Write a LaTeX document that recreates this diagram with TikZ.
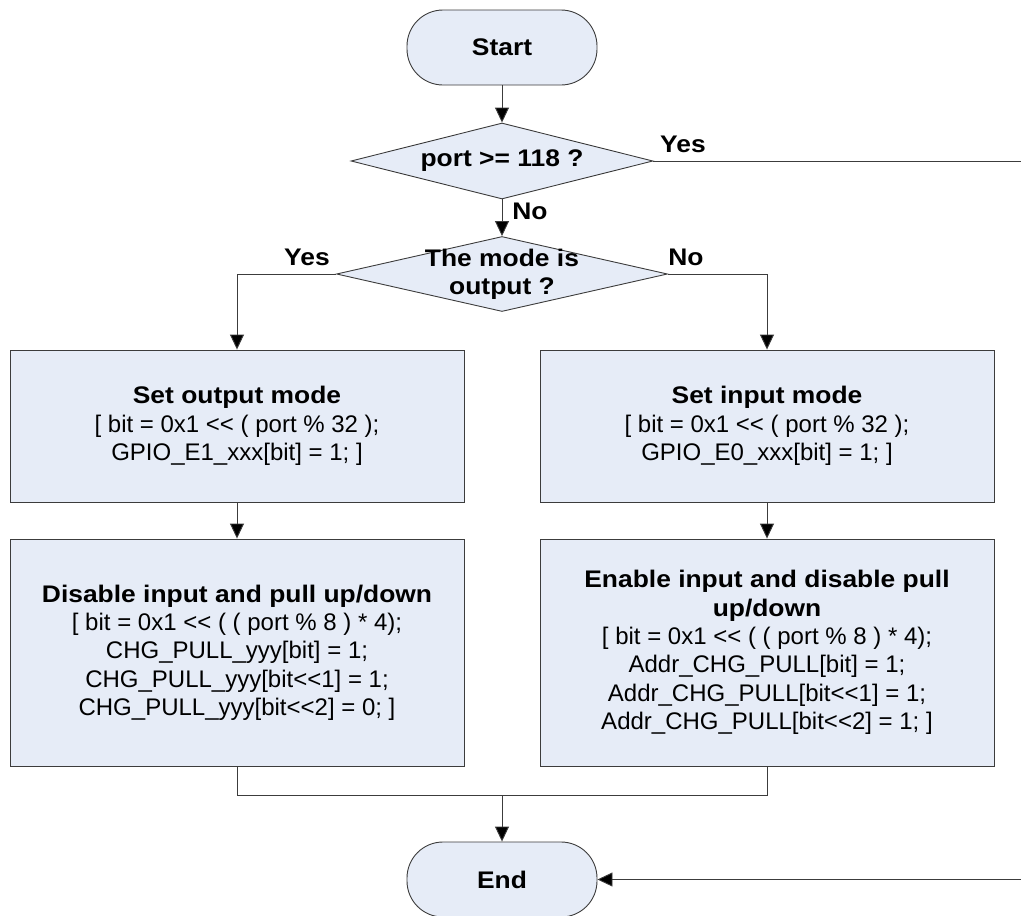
\documentclass[tikz,border=0pt]{standalone}
\usepackage{fontspec}
\setmainfont{Liberation Sans}[Ligatures=TeXOff, BoldFeatures={FakeStretch=1.1}]
\usetikzlibrary{shapes.geometric,arrows.meta}
\definecolor{boxfill}{RGB}{230,236,247}
\definecolor{edgec}{RGB}{60,60,60}
\begin{document}
\begin{tikzpicture}[x=1pt,y=-1pt,
  base/.style={draw=edgec, fill=boxfill, line width=0.9pt, inner sep=0pt},
  term/.style={base, rectangle, rounded corners=36pt, minimum width=190pt, minimum height=75pt,
    font=\fontsize{24}{28.3}\selectfont\bfseries},
  dec/.style={base, diamond, aspect=4},
  proc/.style={base, rectangle, minimum width=454pt, align=center,
    font=\fontsize{24}{28.3}\selectfont},
  lbl/.style={font=\fontsize{24}{28.3}\selectfont\bfseries, align=center, inner sep=0pt},
  conn/.style={draw=edgec, line width=0.9pt},
  arr/.style={conn, -{Triangle[length=15pt,width=14pt,fill=black]}}
]
\useasboundingbox (0,0) rectangle (1021,916);

\node[term] (start) at (502,47.5) {Start};
\node[dec, minimum width=302pt, minimum height=76pt] (d1) at (502,161) {};
\node[lbl] (d1t) at (502,161) {port >= 118 ?};
\node[dec, minimum width=331pt, minimum height=75pt] (d2) at (502,274) {};
\node[lbl] (d2t) at (502,274) {The mode is\\output ?};

\node[proc, minimum height=152pt] (b1l) at (237,426)
  {\textbf{Set output mode}\\\relax [ bit = 0x1 << ( port \% 32 );\\GPIO\_E1\_xxx[bit] = 1; ]};
\node[proc, minimum height=152pt] (b1r) at (767,426)
  {\textbf{Set input mode}\\\relax [ bit = 0x1 << ( port \% 32 );\\GPIO\_E0\_xxx[bit] = 1; ]};
\node[proc, minimum height=227pt] (b2l) at (237,652.5)
  {\textbf{Disable input and pull up/down}\\\relax [ bit = 0x1 << ( ( port \% 8 ) * 4);\\CHG\_PULL\_yyy[bit] = 1;\\CHG\_PULL\_yyy[bit<<1] = 1;\\CHG\_PULL\_yyy[bit<<2] = 0; ]};
\node[proc, minimum height=227pt] (b2r) at (767,652.5)
  {\textbf{Enable input and disable pull}\\\textbf{up/down}\\\relax [ bit = 0x1 << ( ( port \% 8 ) * 4);\\Addr\_CHG\_PULL[bit] = 1;\\Addr\_CHG\_PULL[bit<<1] = 1;\\Addr\_CHG\_PULL[bit<<2] = 1; ]};

\node[term] (end) at (502,879.5) {End};

\coordinate (yesturn) at (1035,161);
\coordinate (join) at (502,795);

\draw[arr] (start.south) -- (d1.north);
\draw[arr] (d1.south) -- (d2.north);
\draw[arr] (d2.west) -| (b1l.north);
\draw[arr] (d2.east) -| (b1r.north);
\draw[arr] (b1l.south) -- (b2l.north);
\draw[arr] (b1r.south) -- (b2r.north);
\draw[conn] (b2l.south) |- (join);
\draw[conn] (b2r.south) |- (join);
\draw[arr] (join) -- (end.north);
\draw[arr] (d1.east) -- (yesturn) |- (end.east);

\node[lbl, anchor=base] (ly1) at (683,152) {Yes};
\node[lbl, anchor=base] (ln1) at (530,219) {No};
\node[lbl, anchor=base] (ly2) at (307,265) {Yes};
\node[lbl, anchor=base] (ln2) at (686,265) {No};
\end{tikzpicture}
\end{document}
